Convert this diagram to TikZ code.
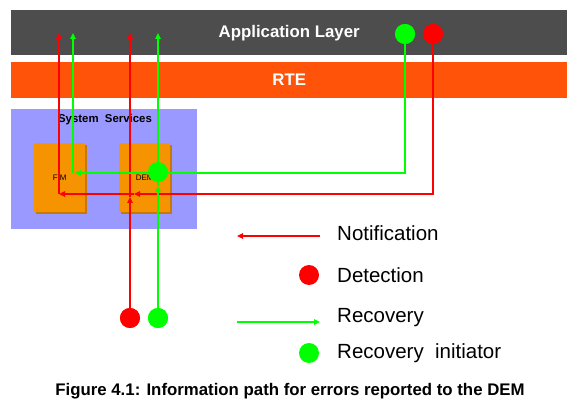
\documentclass[tikz,border=0pt]{standalone}
\usepackage{fontspec}
\setmainfont{Liberation Sans}
\usetikzlibrary{arrows.meta}
\definecolor{appgray}{HTML}{4D4D4D}
\definecolor{rteor}{HTML}{FF5309}
\definecolor{sysblue}{HTML}{9999FF}
\definecolor{boxor}{HTML}{F59300}
\definecolor{boxsh}{HTML}{C87800}
\definecolor{myred}{HTML}{FF0000}
\definecolor{mygreen}{HTML}{00FF00}
\begin{document}
\begin{tikzpicture}[x=1pt,y=-1pt,
  redl/.style={draw=myred,line width=2.3pt},
  greenl/.style={draw=mygreen,line width=2.3pt},
  tip/.style={-{Triangle[length=6pt,width=5.5pt]}},
  dot/.style={circle,minimum size=20pt,inner sep=0pt},
  bar/.style={anchor=north west,inner sep=0pt,text=white,font=\fontsize{16.8}{18}\bfseries\selectfont},
  comp/.style={anchor=north west,inner sep=0pt,fill=boxor,minimum width=51pt,minimum height=69pt,font=\fontsize{8}{9}\selectfont},
  legend/.style={anchor=west,inner sep=0pt,font=\fontsize{20.5}{22}\selectfont},
]
\useasboundingbox (0,0) rectangle (579,417);
\fill[white] (0,0) rectangle (579,417);
% layers
\node[bar,fill=appgray,minimum width=556pt,minimum height=45pt] (app) at (11,10) {Application Layer};
\node[bar,fill=rteor,minimum width=556pt,minimum height=36pt] (rte) at (11,62) {RTE};
\node[anchor=north west,inner sep=0pt,fill=sysblue,minimum width=186pt,minimum height=120pt] (sys) at (11,109) {};
\node[inner sep=0pt,font=\fontsize{11.4}{13}\bfseries\selectfont] (syslbl) at (105,120) {System\ \ Services};
% components with shadow
\fill[boxsh] (36,145) rectangle (87,214);
\fill[boxsh] (121,145) rectangle (172,214);
\node[comp] (fim) at (34,143) {FIM};
\node[comp] (dem) at (119,143) {DEM};
% circles
\node[dot,fill=mygreen] (gtop) at (405,34) {};
\node[dot,fill=myred] (rtop) at (433,34) {};
\node[dot,fill=myred] (rbot) at (130,318) {};
\node[dot,fill=mygreen] (gbot) at (158,318) {};
% path coordinates
\coordinate (r1) at (433,194);
\coordinate (r2) at (134,194);
\coordinate (r3) at (59,194);
\coordinate (r4) at (59,33);
\coordinate (r5) at (130,197);
\coordinate (r6) at (130,33);
\coordinate (g1) at (405,173);
\coordinate (g2) at (75,173);
\coordinate (g3) at (73,173);
\coordinate (g4) at (73,33);
\coordinate (g5) at (158,186);
\coordinate (g6) at (158,33);
% red notification paths
\draw[redl,tip] (rtop.center) -- (r1) -- (r2);
\draw[redl,tip] (r2) -- (r3);
\draw[redl,tip] (r3) -- (r4);
\draw[redl,tip] (rbot.center) -- (r5);
\draw[redl,tip] (r5) -- (r6);
% green recovery paths
\draw[greenl,tip] (gtop.center) -- (g1) -- (g2);
\draw[greenl,tip] (g3) -- (g4);
\draw[greenl,tip] (gbot.center) -- (g5);
\draw[greenl,tip] (g5) -- (g6);
\node[dot,fill=mygreen] (gdem) at (158,172) {};
% redraw circles on top
\node[dot,fill=mygreen] at (gtop) {};
\node[dot,fill=myred] at (rtop) {};
\node[dot,fill=myred] at (rbot) {};
\node[dot,fill=mygreen] at (gbot) {};
% legend
\coordinate (la1) at (320,236);
\coordinate (la2) at (237,236);
\coordinate (lb1) at (237,322);
\coordinate (lb2) at (320,322);
\draw[redl,tip] (la1) -- (la2);
\draw[greenl,tip] (lb1) -- (lb2);
\node[dot,fill=myred] (ldet) at (309,275) {};
\node[dot,fill=mygreen] (lrec) at (309,353) {};
\node[legend] (tnot) at (337,233) {Notification};
\node[legend] (tdet) at (337,275) {Detection};
\node[legend] (trec) at (337,318) {Recovery};
\node[legend] (tri) at (337,353) {Recovery\ \ initiator};
% caption
\node[inner sep=0pt,font=\fontsize{16.8}{18}\bfseries\selectfont] (cap) at (290,391) {Figure 4.1: Information path for errors reported to the DEM};
\end{tikzpicture}
\end{document}
